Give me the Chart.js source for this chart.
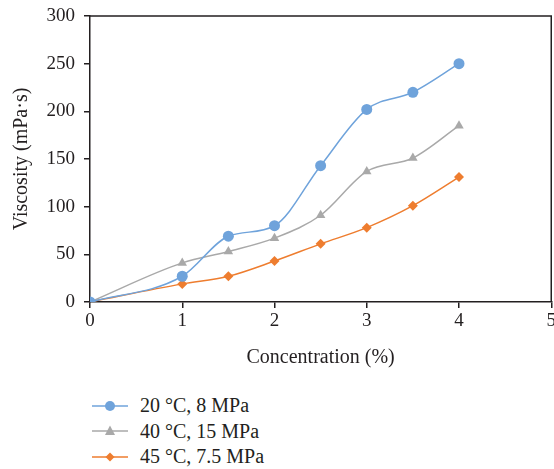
<!DOCTYPE html>
<html>
<head>
<meta charset="utf-8">
<script src="https://cdn.jsdelivr.net/npm/chart.js@4"></script>
<style>
  body { margin: 0; background: #fff; }
  #wrap { position: relative; width: 554px; height: 469px; overflow: hidden; }
  #box { position: absolute; left: 0; top: 0; width: 558px; height: 385px; }
  #legend { position: absolute; left: 92px; top: 393px; font-family: "Liberation Serif", serif; font-size: 20px; color: #231f20; }
  #legend div { height: 25.5px; display: flex; align-items: center; }
  #legend svg { margin-right: 12px; }
</style>
</head>
<body>
<div id="wrap">
  <div id="box"><canvas id="grafico"></canvas></div>
  <div id="legend"></div>
</div>
<script>
// datos
const concentracion = [0, 1, 1.5, 2, 2.5, 3, 3.5, 4];
const serie20 = [0, 27, 69, 80, 143, 202, 220, 250];
const serie40 = [0, 41, 53, 67, 91, 137, 151, 185];
const serie45 = [0, 19, 27, 43, 61, 78, 101, 131];
const nombres = ['20 °C, 8 MPa', '40 °C, 15 MPa', '45 °C, 7.5 MPa'];
const colores = ['#6fa3db', '#a9a9a9', '#ee7d2f'];
const marcas = ['circle', 'triangle', 'rectRot'];
const ticksX = [0, 1, 2, 3, 4, 5];
const ticksY = [0, 50, 100, 150, 200, 250, 300];

const tinta = '#231f20';
const fuente = { family: '"Liberation Serif", serif', size: 19 };

function puntos(vals) {
  return concentracion.map((x, i) => ({ x: x, y: vals[i] }));
}

const series = [serie20, serie40, serie45];
const datasets = series.map((s, i) => ({
  label: nombres[i],
  data: puntos(s),
  borderColor: colores[i],
  backgroundColor: colores[i],
  borderWidth: 1.5,
  pointStyle: marcas[i],
  pointRadius: i === 2 ? 5 : 5.5,
  pointBorderWidth: 0,
  cubicInterpolationMode: 'monotone'
}));

// borde superior y derecho del area
const marco = {
  id: 'marco',
  afterDraw(chart) {
    const { ctx, chartArea: a } = chart;
    ctx.save();
    ctx.strokeStyle = tinta;
    ctx.lineWidth = 1.5;
    ctx.beginPath();
    ctx.moveTo(a.left, a.top);
    ctx.lineTo(a.right, a.top);
    ctx.lineTo(a.right, a.bottom);
    ctx.stroke();
    ctx.restore();
  }
};

new Chart(document.getElementById('grafico'), {
  type: 'line',
  data: { datasets },
  options: {
    responsive: true,
    maintainAspectRatio: false,
    animation: false,
    layout: { padding: { top: 16, right: 1, left: 0, bottom: 0 } },
    plugins: { legend: { display: false }, tooltip: { enabled: false } },
    scales: {
      x: {
        type: 'linear', min: 0, max: 5,
        afterBuildTicks: s => { s.ticks = ticksX.map(v => ({ value: v })); },
        afterFit: s => { s.height = 83; },
        ticks: { color: tinta, font: fuente, padding: 2, maxRotation: 0 },
        grid: { drawOnChartArea: false, tickLength: 6, color: tinta, lineWidth: 1.5 },
        border: { color: tinta, width: 1.5 },
        title: { display: true, text: 'Concentration (%)', color: tinta, font: { family: fuente.family, size: 20 }, padding: { top: 0, bottom: 15 } }
      },
      y: {
        min: 0, max: 300,
        afterBuildTicks: s => { s.ticks = ticksY.map(v => ({ value: v })); },
        afterFit: s => { s.width = 90; s.paddingTop = 0; s.paddingBottom = 0; },
        ticks: { color: tinta, font: fuente, padding: 9 },
        grid: { drawOnChartArea: false, tickLength: 6, color: tinta, lineWidth: 1.5 },
        border: { color: tinta, width: 1.5 },
        title: { display: true, text: 'Viscosity (mPa·s)', color: tinta, font: { family: fuente.family, size: 20 }, padding: { top: 10, bottom: 0 } }
      }
    }
  },
  plugins: [marco]
});

// leyenda
const leyenda = document.getElementById('legend');
nombres.forEach((n, i) => {
  let m;
  if (marcas[i] === 'circle') m = `<circle cx="18" cy="7" r="5" fill="${colores[i]}"/>`;
  else if (marcas[i] === 'triangle') m = `<polygon points="18,1.5 23,11 13,11" fill="${colores[i]}"/>`;
  else m = `<polygon points="18,2.5 22.5,7 18,11.5 13.5,7" fill="${colores[i]}"/>`;
  const fila = document.createElement('div');
  fila.innerHTML = `<svg width="36" height="14"><line x1="0" y1="7" x2="36" y2="7" stroke="${colores[i]}" stroke-width="1.5"/>${m}</svg><span>${n}</span>`;
  leyenda.appendChild(fila);
});
</script>
</body>
</html>
